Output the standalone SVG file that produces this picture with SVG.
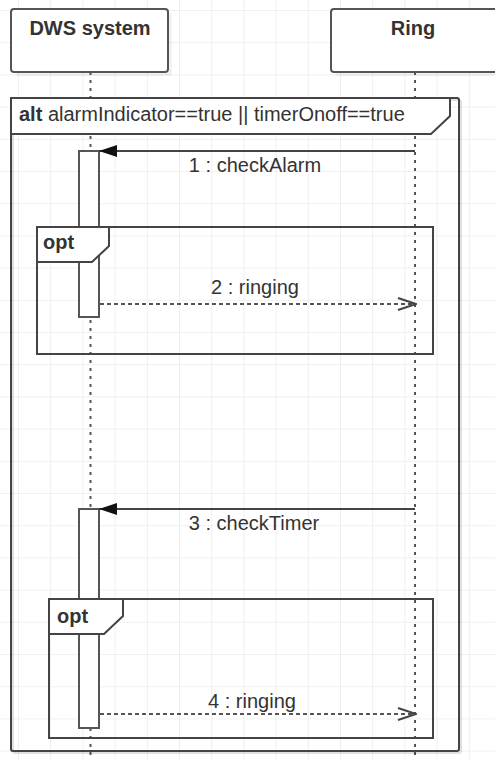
<svg xmlns="http://www.w3.org/2000/svg" width="495" height="759" viewBox="0 0 495 759">
<style>
  text { font-family: "Liberation Sans", Arial, sans-serif; fill: #333; }
  .title { font-size: 20px; font-weight: bold; text-anchor: middle; }
  .flabel { font-size: 20px; }
  .mlabel { font-size: 20px; text-anchor: middle; }
  .box { fill: #fff; stroke: #555; stroke-width: 2; }
  .shadow { fill: #000; opacity: 0.05; }
  .fshadow { fill: none; stroke: #000; stroke-width: 2; opacity: 0.12; }
  .life { stroke: #555; stroke-width: 2; stroke-dasharray: 3 5; fill: none; }
  .frame { fill: none; stroke: #444; stroke-width: 2; }
  .tab { fill: #fff; stroke: #444; stroke-width: 2; }
  .bar { fill: #fff; stroke: #555; stroke-width: 2; }
  .sync { stroke: #444; stroke-width: 2; fill: none; }
  .reply { stroke: #555; stroke-width: 2; stroke-dasharray: 4 3; fill: none; }
</style>
<defs>
  <pattern id="grid" x="18" y="10" width="32.2" height="32.2" patternUnits="userSpaceOnUse">
    <path d="M0,0 H32.2 M0,0 V32.2" stroke="#ebebeb" stroke-width="1.5" fill="none"/>
  </pattern>
  <marker id="filled" markerUnits="userSpaceOnUse" markerWidth="18" markerHeight="12" refX="18" refY="6" orient="auto">
    <path d="M0,0 L18,6 L0,12 Z" fill="#111"/>
  </marker>
  <marker id="open" markerUnits="userSpaceOnUse" markerWidth="20" markerHeight="14" refX="19" refY="7" orient="auto">
    <path d="M1,1 L19,7 L1,13" fill="none" stroke="#444" stroke-width="2"/>
  </marker>
</defs>
<rect width="495" height="759" fill="#fff"/>
<rect width="495" height="759" fill="url(#grid)"/>

<g id="lifelines">
  <line class="life" x1="90.5" y1="72" x2="90.5" y2="759"/>
  <line class="life" x1="415" y1="72" x2="415" y2="759"/>
</g>

<g id="frame-alt">
  <rect class="fshadow" x="13" y="100" width="448" height="653" rx="2"/>
  <rect class="frame" x="11" y="98" width="448" height="653" rx="2"/>
  <path class="tab" d="M11,98 H450 V116 L431,134 H11 Z"/>
  <text class="flabel" x="19" y="121"><tspan font-weight="bold">alt</tspan> alarmIndicator==true || timerOnoff==true</text>
</g>

<g id="activation-1">
  <rect class="bar" x="79" y="151" width="20" height="166"/>
</g>
<g id="activation-2">
  <rect class="bar" x="79" y="509" width="20" height="219"/>
</g>

<g id="frame-opt-1">
  <rect class="frame" x="37" y="227" width="396" height="127"/>
  <path class="tab" d="M37,227 H109 V246 L92,262 H37 Z"/>
  <text class="flabel" x="43" y="249" font-weight="bold">opt</text>
</g>

<g id="frame-opt-2">
  <rect class="frame" x="49" y="599" width="384" height="139"/>
  <path class="tab" d="M49,599 H123 V616 L104,634 H49 Z"/>
  <text class="flabel" x="57" y="623" font-weight="bold">opt</text>
</g>

<g id="participant-dws">
  <rect class="shadow" x="15" y="13" width="157" height="63" rx="3"/>
  <rect class="box" x="11" y="9" width="157" height="63" rx="3"/>
  <text class="title" x="90" y="35">DWS system</text>
</g>
<g id="participant-ring">
  <rect class="shadow" x="335" y="13" width="168" height="63" rx="3"/>
  <rect class="box" x="331" y="9" width="168" height="63" rx="3"/>
  <text class="title" x="413" y="35">Ring</text>
</g>

<g id="connectors">
  <line class="sync" x1="415" y1="151" x2="99" y2="151" marker-end="url(#filled)"/>
  <text class="mlabel" x="255" y="172">1 : checkAlarm</text>
  <line class="reply" x1="100" y1="304" x2="416" y2="304" marker-end="url(#open)"/>
  <text class="mlabel" x="255" y="294">2 : ringing</text>
  <line class="sync" x1="415" y1="509" x2="99" y2="509" marker-end="url(#filled)"/>
  <text class="mlabel" x="254" y="530">3 : checkTimer</text>
  <line class="reply" x1="100" y1="714" x2="416" y2="714" marker-end="url(#open)"/>
  <text class="mlabel" x="252" y="708">4 : ringing</text>
</g>
</svg>
